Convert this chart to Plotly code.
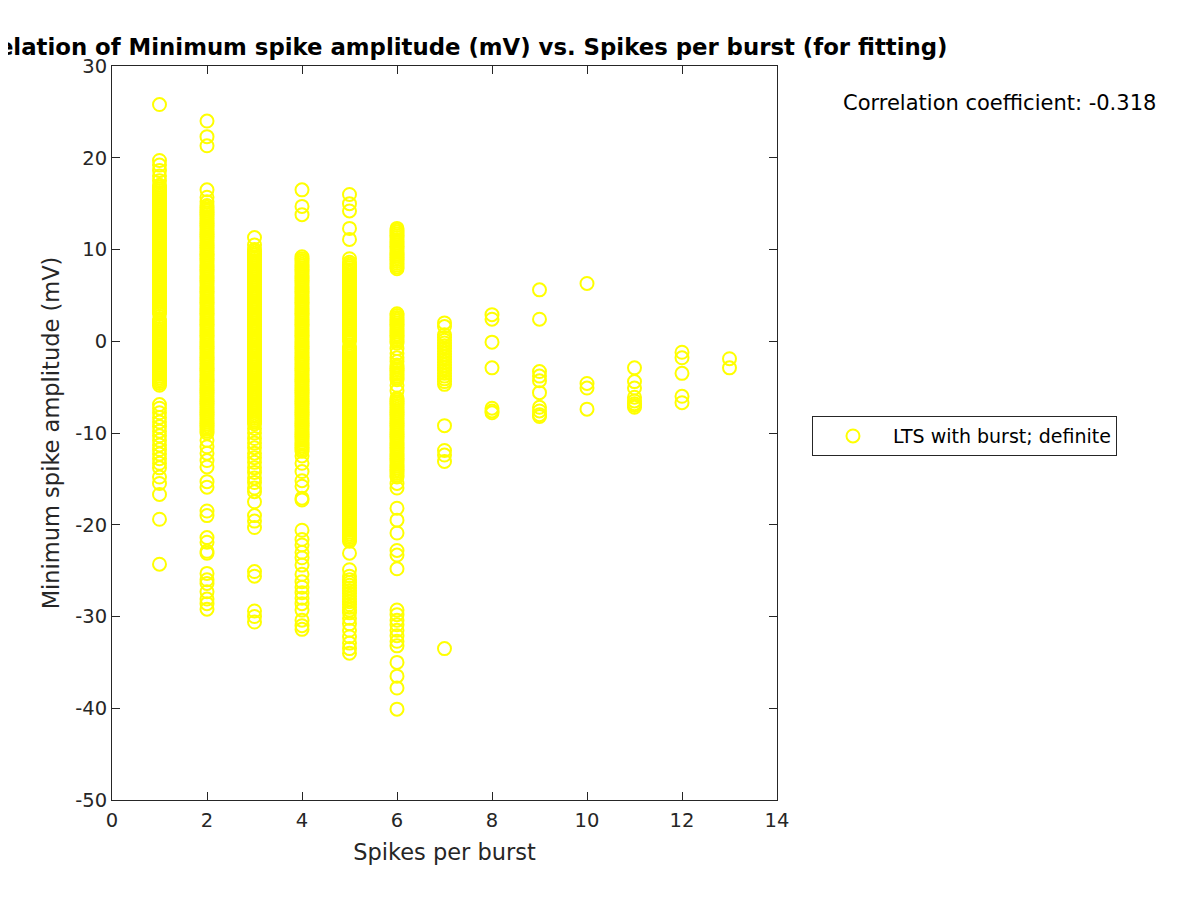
import plotly.graph_objects as go

# Minimum spike amplitude (mV) values, grouped by spikes per burst
spikes_per_burst = [1, 2, 3, 4, 5, 6, 7, 8, 9, 10, 11, 12, 13]

amp_1 = [25.8, 19.7, 19.2, 18.6, 18.0, 17.5,
         17.0, 16.8, 16.6, 16.4, 16.2, 16.0, 15.8, 15.6, 15.4, 15.2, 15.0, 14.8, 14.6, 14.4,
         14.2, 14.0, 13.8, 13.6, 13.4, 13.2, 13.0, 12.8, 12.6, 12.4, 12.2, 12.0, 11.8, 11.6,
         11.4, 11.2, 11.0, 10.8, 10.6, 10.4, 10.2, 10.0, 9.8, 9.6, 9.4, 9.2, 9.0, 8.8, 8.6,
         8.4, 8.2, 8.0, 7.8, 7.6, 7.4, 7.2, 7.0, 6.8, 6.6, 6.4, 6.2, 6.0, 5.8, 5.6, 5.4, 5.2,
         5.0, 4.8, 4.6, 4.4, 4.2, 4.0, 3.8, 3.6, 3.4, 3.2, 3.0, 2.4, 2.2, 2.0, 1.8, 1.6, 1.4,
         1.2, 1.0, 0.8, 0.6, 0.4, 0.2, 0.0, -0.2, -0.4, -0.6, -0.8, -1.0, -1.2, -1.4, -1.6,
         -1.8, -2.0, -2.2, -2.4, -2.6, -2.8, -3.0, -3.2, -3.4, -3.6, -3.8, -4.0, -4.2, -4.4,
         -4.6, -4.8,
         -6.9, -7.3, -7.8, -8.3, -8.8, -9.3, -9.8, -10.3, -10.8, -11.3, -11.8, -12.3, -12.8,
         -13.3, -13.8, -14.8, -15.5, -16.7, -19.4, -24.3]

amp_2 = [24.0, 22.3, 21.3, 16.5, 15.7, 15.2,
         14.8, 14.6, 14.4, 14.2, 14.0, 13.8, 13.6, 13.4, 13.2, 13.0, 12.8, 12.6, 12.4, 12.2,
         12.0, 11.8, 11.6, 11.4, 11.2, 11.0, 10.8, 10.6, 10.4, 10.2, 10.0, 9.8, 9.6, 9.4, 9.2,
         9.0, 8.8, 8.6, 8.4, 8.2, 8.0, 7.8, 7.6, 7.4, 7.2, 7.0, 6.8, 6.6, 6.4, 6.2, 6.0, 5.8,
         5.6, 5.4, 5.2, 5.0, 4.8, 4.6, 4.4, 4.2, 4.0, 3.8, 3.6, 3.4, 3.2, 3.0, 2.8, 2.6, 2.4,
         2.2, 2.0, 1.8, 1.6, 1.4, 1.2, 1.0, 0.8, 0.6, 0.4, 0.2, 0.0, -0.2, -0.4, -0.6, -0.8,
         -1.0, -1.2, -1.4, -1.6, -1.8, -2.0, -2.2, -2.4, -2.6, -2.8, -3.0, -3.2, -3.4, -3.6,
         -3.8, -4.0, -4.2, -4.4, -4.6, -4.8, -5.0, -5.2, -5.4, -5.6, -5.8, -6.0, -6.2, -6.4,
         -6.6, -6.8, -7.0, -7.2, -7.4, -7.6, -7.8, -8.0, -8.2, -8.4, -8.6, -8.8, -9.0, -9.2,
         -9.4, -9.6, -9.8, -10.0,
         -10.8, -11.5, -12.2, -13.0, -13.7, -15.3, -15.9, -18.5, -19.0,
         -21.4, -21.9, -22.9, -23.1, -25.3, -26.0, -26.4, -27.3, -28.1, -28.6, -29.2]

amp_3 = [11.3, 10.5,
         10.0, 9.8, 9.6, 9.4, 9.2, 9.0, 8.8, 8.6, 8.4, 8.2, 8.0, 7.8, 7.6, 7.4, 7.2, 7.0, 6.8,
         6.6, 6.4, 6.2, 6.0, 5.8, 5.6, 5.4, 5.2, 5.0, 4.8, 4.6, 4.4, 4.2, 4.0, 3.8, 3.6, 3.4,
         3.2, 3.0, 2.8, 2.6, 2.4, 2.2, 2.0, 1.8, 1.6, 1.4, 1.2, 1.0, 0.8, 0.6, 0.4, 0.2, 0.0,
         -0.2, -0.4, -0.6, -0.8, -1.0, -1.2, -1.4, -1.6, -1.8, -2.0, -2.2, -2.4, -2.6, -2.8,
         -3.0, -3.2, -3.4, -3.6, -3.8, -4.0, -4.2, -4.4, -4.6, -4.8, -5.0, -5.2, -5.4, -5.6,
         -5.8, -6.0, -6.2, -6.4, -6.6, -6.8, -7.0, -7.2, -7.4, -7.6, -7.8, -8.0, -8.2, -8.4,
         -8.6, -8.8, -9.0,
         -9.5, -10.0, -10.6, -11.1, -11.6, -12.2, -12.7, -13.2, -13.8, -14.3, -14.9, -15.4,
         -16.0, -16.4, -17.5, -19.0, -19.6, -20.3, -25.1, -25.6, -29.4, -30.0, -30.6]

amp_4 = [16.5, 14.7, 13.8,
         9.2, 9.0, 8.8, 8.6, 8.4, 8.2, 8.0, 7.8, 7.6, 7.4, 7.2, 7.0, 6.8, 6.6, 6.4, 6.2, 6.0,
         5.8, 5.6, 5.4, 5.2, 5.0, 4.8, 4.6, 4.4, 4.2, 4.0, 3.8, 3.6, 3.4, 3.2, 3.0, 2.8, 2.6,
         2.4, 2.2, 2.0, 1.8, 1.6, 1.4, 1.2, 1.0, 0.8, 0.6, 0.4, 0.2, 0.0, -0.2, -0.4, -0.6,
         -0.8, -1.0, -1.2, -1.4, -1.6, -1.8, -2.0, -2.2, -2.4, -2.6, -2.8, -3.0, -3.2, -3.4,
         -3.6, -3.8, -4.0, -4.2, -4.4, -4.6, -4.8, -5.0, -5.2, -5.4, -5.6, -5.8, -6.0, -6.2,
         -6.4, -6.6, -6.8, -7.0, -7.2, -7.4, -7.6, -7.8, -8.0, -8.2, -8.4, -8.6, -8.8, -9.0,
         -9.2, -9.4, -9.6, -9.8, -10.0, -10.2, -10.4, -10.6, -10.8, -11.0, -11.2, -11.4,
         -11.6, -11.8, -12.0,
         -12.5, -13.3, -14.2, -15.2, -15.8, -17.1, -17.3,
         -20.6, -21.6, -22.2, -23.0, -23.6, -24.4, -25.4, -26.2, -26.8, -27.4, -28.0, -28.6,
         -29.3, -30.4, -31.0, -31.4]

amp_5 = [16.0, 15.0, 14.2, 12.3, 11.1, 9.0,
         8.6, 8.4, 8.2, 8.0, 7.8, 7.6, 7.4, 7.2, 7.0, 6.8, 6.6, 6.4, 6.2, 6.0, 5.8, 5.6, 5.4,
         5.2, 5.0, 4.8, 4.6, 4.4, 4.2, 4.0, 3.8, 3.6, 3.4, 3.2, 3.0, 2.8, 2.6, 2.4, 2.2, 2.0,
         1.8, 1.6, 1.4, 1.2, 1.0, 0.8, 0.6, 0.4, 0.2, 0.0,
         -0.6, -0.8, -1.0, -1.2, -1.4, -1.6, -1.8, -2.0, -2.2, -2.4, -2.6, -2.8, -3.0, -3.2,
         -3.4, -3.6, -3.8, -4.0, -4.2, -4.4, -4.6, -4.8, -5.0, -5.2, -5.4, -5.6, -5.8, -6.0,
         -6.2, -6.4, -6.6, -6.8, -7.0, -7.2, -7.4, -7.6, -7.8, -8.0, -8.2, -8.4, -8.6, -8.8,
         -9.0, -9.2, -9.4, -9.6, -9.8, -10.0, -10.2, -10.4, -10.6, -10.8, -11.0, -11.2, -11.4,
         -11.6, -11.8, -12.0, -12.2, -12.4, -12.6, -12.8, -13.0, -13.2, -13.4, -13.6, -13.8,
         -14.0, -14.2, -14.4, -14.6, -14.8, -15.0, -15.2, -15.4, -15.6, -15.8, -16.0, -16.2,
         -16.4, -16.6, -16.8, -17.0, -17.2, -17.4, -17.6, -17.8, -18.0, -18.2, -18.4, -18.6,
         -18.8, -19.0, -19.2, -19.4, -19.6, -19.8, -20.0, -20.2, -20.4, -20.6, -20.8, -21.0,
         -21.2, -21.4, -21.6, -21.8,
         -23.1, -24.9, -25.6, -26.0, -26.3, -26.6, -26.9, -27.2, -27.5, -27.8, -28.1, -28.4,
         -28.7, -29.0, -29.3, -29.6, -30.2, -30.8, -31.5, -32.2, -32.9, -33.5, -34.0]

amp_6 = [12.3, 12.1, 11.9, 11.7, 11.5, 11.3, 11.1, 10.9, 10.7, 10.5, 10.3, 10.1, 9.9, 9.7,
         9.5, 9.3, 9.1, 8.9, 8.7, 8.5, 8.3, 8.1, 7.9,
         3.0, 2.8, 2.6, 2.4, 2.2, 2.0, 1.8, 1.6, 1.4, 1.2, 1.0, 0.8, 0.6, 0.4, 0.2, 0.0, -0.2,
         -0.8, -1.3, -1.8, -2.2, -2.6, -2.8, -3.0, -3.2, -3.4, -3.6, -3.8, -4.0, -4.2, -4.8,
         -5.4,
         -6.2, -6.4, -6.6, -6.8, -7.0, -7.2, -7.4, -7.6, -7.8, -8.0, -8.2, -8.4, -8.6, -8.8,
         -9.0, -9.2, -9.4, -9.6, -9.8, -10.0, -10.2, -10.4, -10.6, -10.8, -11.0, -11.2, -11.4,
         -11.6, -11.8, -12.0, -12.2, -12.4, -12.6, -12.8, -13.0, -13.2, -13.4, -13.6, -13.8,
         -14.0, -14.2, -14.4, -14.6, -14.8, -15.5, -16.0,
         -18.2, -19.5, -20.9, -22.8, -23.3, -24.8, -29.3, -29.8, -30.4, -30.9, -31.5, -32.1,
         -32.7, -33.2, -35.0, -36.5, -37.8, -40.1]

amp_7 = [2.0, 1.6, 0.7, 0.4, 0.1, -0.2, -0.5, -0.8, -1.1, -1.4, -1.7, -2.0, -2.3, -2.6,
         -2.9, -3.2, -3.5, -3.8, -4.1, -4.4, -4.7, -9.2, -11.9, -12.4, -13.1, -33.5]
amp_8 = [2.9, 2.4, -0.1, -2.9, -7.3, -7.6, -7.8]
amp_9 = [5.6, 2.4, -3.3, -3.8, -4.3, -5.6, -7.2, -7.6, -8.0, -8.2]
amp_10 = [6.3, -4.6, -5.1, -7.4]
amp_11 = [-2.9, -4.4, -5.1, -6.1, -6.5, -6.8, -7.0, -7.2]
amp_12 = [-1.2, -1.8, -3.5, -6.0, -6.7]
amp_13 = [-1.9, -2.9]

groups = [amp_1, amp_2, amp_3, amp_4, amp_5, amp_6, amp_7,
          amp_8, amp_9, amp_10, amp_11, amp_12, amp_13]

x_vals, y_vals = [], []
for k, vals in zip(spikes_per_burst, groups):
    x_vals += [k] * len(vals)
    y_vals += vals

x_ticks = [0, 2, 4, 6, 8, 10, 12, 14]
x_ticktext = ["0", "2", "4", "6", "8", "10", "12", "14"]
y_ticks = [-50, -40, -30, -20, -10, 0, 10, 20, 30]
y_ticktext = ["-50", "-40", "-30", "-20", "-10", "0", "10", "20", "30"]

FONT = "DejaVu Sans"
AXC = "#262626"

fig = go.Figure()
fig.add_trace(go.Scatter(
    x=x_vals, y=y_vals, mode="markers",
    name="LTS with burst; definite",
    marker=dict(symbol="circle-open", size=13, color="#ffff00",
                line=dict(width=2, color="#ffff00")),
))

axis_common = dict(
    showgrid=False, zeroline=False, showline=True, linecolor=AXC, linewidth=1,
    mirror="allticks", ticks="inside", ticklen=8, tickcolor=AXC,
    tickfont=dict(family=FONT, size=19.5, color=AXC),
)
fig.update_xaxes(range=[0, 14], tickvals=x_ticks, ticktext=x_ticktext, ticklabelstandoff=3,
                 title=dict(text="Spikes per burst", font=dict(family=FONT, size=22.5, color=AXC),
                            standoff=12),
                 **axis_common)
fig.update_yaxes(range=[-50, 30], tickvals=y_ticks, ticktext=y_ticktext,
                 title=dict(text="Minimum spike amplitude (mV)",
                            font=dict(family=FONT, size=22.5, color=AXC), standoff=9),
                 **axis_common)

fig.update_layout(
    width=1200, height=900,
    margin=dict(l=104, r=431, t=58, b=108, autoexpand=False),
    plot_bgcolor="white", paper_bgcolor="white",
    showlegend=True,
    legend=dict(x=1.0526, y=0.523, xanchor="left", yanchor="top",
                bordercolor=AXC, borderwidth=1, bgcolor="white",
                font=dict(family=FONT, size=19, color="black"),
                itemwidth=70),
    annotations=[
        dict(text="<b>Correlation of Minimum spike amplitude (mV) vs. Spikes per burst (for fitting)</b>",
             xref="paper", yref="paper", x=0.5, y=1.0, yshift=19, xanchor="center", yanchor="middle",
             showarrow=False, font=dict(family=FONT, size=22.8, color="black")),
        dict(text="Correlation coefficient: -0.318", xref="paper", yref="paper",
             x=1.335, y=0.9496, xanchor="center", yanchor="middle", showarrow=False,
             font=dict(family=FONT, size=21, color="black")),
    ],
)

fig.write_html("out.html")
